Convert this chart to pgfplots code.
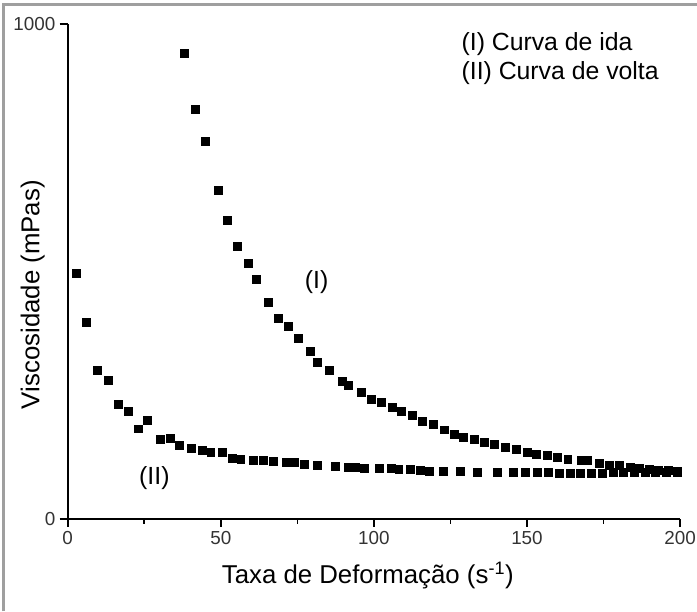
\documentclass[border=0pt]{standalone}
\usepackage{fontspec}
\setmainfont{Liberation Sans}
\usepackage{pgfplots}
\pgfplotsset{compat=1.18}
\usepackage{pgfplotstable}

% Curva de ida (I): taxa de deformação (1/s), viscosidade (mPas)
\pgfplotstableread{
x y
38.2 940
41.6 827
44.9 763
49.0 663
52.0 603
55.2 551
58.9 517
61.6 484
65.5 437
68.9 406
71.9 390
75.4 364
79.3 339
81.6 317
85.5 300
89.5 278
91.5 270
96.0 256
99.1 242
102.3 235
106.0 225
109.0 218
112.5 209
115.8 198
119.3 191
122.9 180
126.2 171
129.1 164
132.9 160
135.9 155
139.4 150
142.9 145
146.4 141
150.0 135
152.9 131
156.7 128
160.0 124
163.3 121
167.6 119
169.8 119
173.6 113
176.8 108
180.1 108
183.8 104
186.6 103
189.8 101
193.0 99
196.0 98
199.0 97
}\ida

% Curva de volta (II)
\pgfplotstableread{
x y
2.8 497
6.1 398
9.5 300
13.1 280
16.4 231
19.8 218
23.0 182
26.1 200
30.1 161
33.4 163
36.4 148
40.4 143
43.8 139
46.7 135
50.5 134
53.6 123
56.5 121
60.6 119
63.9 119
67.1 117
71.2 115
74.1 115
77.1 111
81.4 109
87.4 107
91.7 104
93.9 104
96.7 103
101.7 103
105.5 102
108.1 101
111.9 100
115.2 99
118.1 97
122.7 96
128.2 96
133.8 95
140.3 95
145.5 95
149.4 95
153.2 94
157.0 94
160.5 93
164.0 93
167.5 93
171.0 93
174.5 93
178.0 94
181.5 94
185.0 94
188.5 95
192.0 95
195.5 95
199.0 95
}\volta

\begin{document}
\begin{tikzpicture}
\begin{axis}[
  name=ax,
  at={(0,0)}, anchor=south west,
  width=615bp, height=497bp, scale only axis,
  xmin=0, xmax=200, ymin=0, ymax=1000,
  axis x line=bottom, axis y line=left,
  axis line style={-, line width=1.6bp, black},
  xtick={0,50,100,150,200},
  minor xtick={25,75,125,175},
  ytick={0,1000},
  tick align=outside,
  major tick length=8bp, minor tick length=5bp,
  every tick/.style={black, line width=1.6bp},
  /pgf/number format/assume math mode=true,
  /pgf/number format/1000 sep={},
  tick label style={font=\fontsize{19}{19}\selectfont, text=black!80},
  xticklabel style={yshift=-1bp},
  yticklabel style={xshift=-1bp},
  xlabel={Taxa de Deformação (s\textsuperscript{-1})},
  ylabel={Viscosidade (mPas)},
  label style={font=\fontsize{26}{26}\selectfont},
  xlabel style={at={(axis description cs:0.49,-0.115)}, anchor=center},
  ylabel style={at={(axis description cs:-0.057,0.453)}, anchor=center},
  clip=false,
]
\addplot[only marks, mark=square*, mark size=4bp, black] table {\ida};
\addplot[only marks, mark=square*, mark size=4bp, black] table {\volta};
\node[anchor=base west, font=\fontsize{25}{25}\selectfont] at (axis cs:127.5,947) {(I) Curva de ida};
\node[anchor=base west, font=\fontsize{25}{25}\selectfont] at (axis cs:127.5,887) {(II) Curva de volta};
\node[font=\fontsize{25}{25}\selectfont] at (axis cs:81.3,479) {(I)};
\node[font=\fontsize{25}{25}\selectfont] at (axis cs:28.3,82) {(II)};
\end{axis}
\pgfresetboundingbox
\path[use as bounding box] (-68bp,-93bp) rectangle (632bp,521bp);
\draw[gray!75, line width=3bp] (-64bp,-93bp) -- (-64bp,516bp) -- (632bp,516bp);
\end{tikzpicture}
\end{document}
